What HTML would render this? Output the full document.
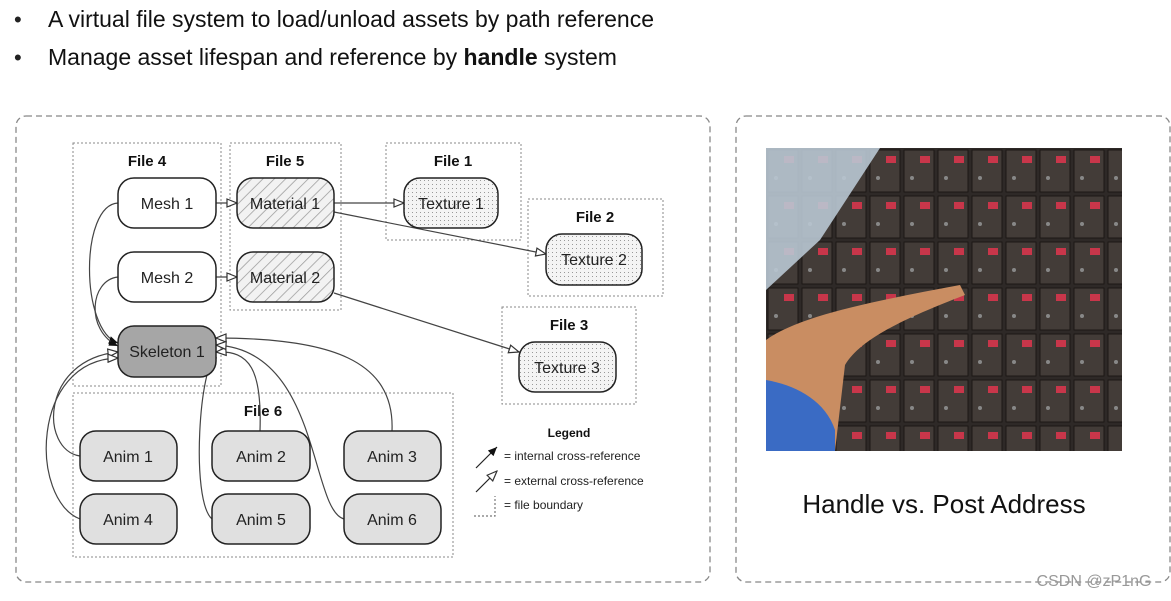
<!DOCTYPE html>
<html><head><meta charset="utf-8"><style>
body{margin:0;width:1171px;height:596px;background:#fff;overflow:hidden;font-family:"Liberation Sans",sans-serif;}
</style></head><body>
<svg width="1171" height="596" xmlns="http://www.w3.org/2000/svg" font-family="Liberation Sans, sans-serif">
<defs>
<pattern id="hatch" width="8" height="8" patternUnits="userSpaceOnUse" patternTransform="rotate(45)">
<rect width="8" height="8" fill="#f2f2f2"/><line x1="0" y1="0" x2="0" y2="8" stroke="#9a9a9a" stroke-width="1.5"/></pattern>
<pattern id="dots" width="4" height="4" patternUnits="userSpaceOnUse"><rect width="4" height="4" fill="#f4f4f4"/><rect width="1" height="1" fill="#999"/></pattern>
<marker id="open" markerWidth="12" markerHeight="10" refX="11" refY="5" orient="auto" markerUnits="userSpaceOnUse"><path d="M1,1 L11,5 L1,9 Z" fill="#fff" stroke="#333" stroke-width="1.2"/></marker>
<marker id="fill" markerWidth="10" markerHeight="8" refX="9" refY="4" orient="auto" markerUnits="userSpaceOnUse"><path d="M0,0 L9,4 L0,8 Z" fill="#111"/></marker>
<pattern id="boxes" width="34" height="46" patternUnits="userSpaceOnUse" x="766" y="148"><rect width="34" height="46" fill="#2e2927"/><rect x="2" y="2" width="30" height="42" fill="#433c38" stroke="#1c1816"/><rect x="18" y="8" width="10" height="7" fill="#c8364a"/><circle cx="10" cy="30" r="2" fill="#888"/></pattern>
</defs>
<text x="14" y="27" font-size="22" fill="#222">•</text>
<text x="48" y="27" font-size="23" fill="#111">A virtual file system to load/unload assets by path reference</text>
<text x="14" y="65" font-size="22" fill="#222">•</text>
<text x="48" y="65" font-size="23" fill="#111">Manage asset lifespan and reference by <tspan font-weight="bold">handle</tspan> system</text>

<rect x="16" y="116" width="694" height="466" rx="10" fill="none" stroke="#888" stroke-width="1.3" stroke-dasharray="6,4"/>
<rect x="736" y="116" width="434" height="466" rx="10" fill="none" stroke="#888" stroke-width="1.3" stroke-dasharray="6,4"/>

<g fill="none" stroke="#888" stroke-width="1" stroke-dasharray="2,2">
<rect x="73" y="143" width="148" height="243"/>
<rect x="230" y="143" width="111" height="167"/>
<rect x="386" y="143" width="135" height="97"/>
<rect x="528" y="199" width="135" height="97"/>
<rect x="502" y="307" width="134" height="97"/>
<rect x="73" y="393" width="380" height="164"/>
</g>
<g font-size="15" font-weight="bold" fill="#111" text-anchor="middle">
<text x="147" y="166">File 4</text><text x="285" y="166">File 5</text><text x="453" y="166">File 1</text>
<text x="595" y="222">File 2</text><text x="569" y="330">File 3</text><text x="263" y="416">File 6</text>
</g>

<g fill="none" stroke="#444" stroke-width="1.2">
<path d="M216,203 L237,203" marker-end="url(#open)"/>
<path d="M216,277 L237,277" marker-end="url(#open)"/>
<path d="M334,203 L404,203" marker-end="url(#open)"/>
<path d="M334,212 L546,254" marker-end="url(#open)"/>
<path d="M334,293 L519,352" marker-end="url(#open)"/>
<path d="M118,203 C80,205 80,330 118,343" marker-end="url(#fill)"/>
<path d="M118,277 C90,280 85,330 118,346" marker-end="url(#fill)"/>
<path d="M80,456 C40,450 40,360 118,352" marker-end="url(#open)"/>
<path d="M80,519 C30,500 30,360 118,358" marker-end="url(#open)"/>
<path d="M260,431 C262,370 250,350 216,352" marker-end="url(#open)"/>
<path d="M212,519 C190,500 200,360 216,358" marker-end="url(#open)"/>
<path d="M392,431 C395,360 330,338 216,338" marker-end="url(#open)"/>
<path d="M344,519 C310,510 320,350 216,345" marker-end="url(#open)"/>
</g>

<g stroke="#222" stroke-width="1.5">
<rect x="118" y="178" width="98" height="50" rx="16" fill="#fff"/>
<rect x="118" y="252" width="98" height="50" rx="16" fill="#fff"/>
<rect x="118" y="326" width="98" height="51" rx="16" fill="#a6a6a6"/>
<rect x="237" y="178" width="97" height="50" rx="16" fill="url(#hatch)"/>
<rect x="237" y="252" width="97" height="50" rx="16" fill="url(#hatch)"/>
<rect x="404" y="178" width="94" height="50" rx="16" fill="url(#dots)"/>
<rect x="546" y="234" width="96" height="51" rx="16" fill="url(#dots)"/>
<rect x="519" y="342" width="97" height="50" rx="16" fill="url(#dots)"/>
<rect x="80" y="431" width="97" height="50" rx="16" fill="#e0e0e0"/>
<rect x="212" y="431" width="98" height="50" rx="16" fill="#e0e0e0"/>
<rect x="344" y="431" width="97" height="50" rx="16" fill="#e0e0e0"/>
<rect x="80" y="494" width="97" height="50" rx="16" fill="#e0e0e0"/>
<rect x="212" y="494" width="98" height="50" rx="16" fill="#e0e0e0"/>
<rect x="344" y="494" width="97" height="50" rx="16" fill="#e0e0e0"/>
</g>
<g font-size="16" fill="#222" text-anchor="middle">
<text x="167" y="209">Mesh 1</text><text x="167" y="283">Mesh 2</text><text x="167" y="357">Skeleton 1</text>
<text x="285" y="209">Material 1</text><text x="285" y="283">Material 2</text>
<text x="451" y="209">Texture 1</text><text x="594" y="265">Texture 2</text><text x="567" y="373">Texture 3</text>
<text x="128" y="462">Anim 1</text><text x="261" y="462">Anim 2</text><text x="392" y="462">Anim 3</text>
<text x="128" y="525">Anim 4</text><text x="261" y="525">Anim 5</text><text x="392" y="525">Anim 6</text>
</g>

<text x="569" y="437" font-size="12" font-weight="bold" text-anchor="middle" fill="#111">Legend</text>
<g stroke="#222" stroke-width="1.2" fill="none">
<path d="M476,468 L497,447" marker-end="url(#fill)"/>
<path d="M476,492 L497,471" marker-end="url(#open)"/>
<path d="M474,516 L495,516 L495,496" stroke-dasharray="2,2" stroke="#777"/>
</g>
<g font-size="12" fill="#222">
<text x="504" y="460">= internal cross-reference</text>
<text x="504" y="485">= external cross-reference</text>
<text x="504" y="509">= file boundary</text>
</g>

<rect x="766" y="148" width="356" height="303" fill="url(#boxes)"/>
<path d="M766,148 L880,148 L820,240 L766,290 Z" fill="#b9c7d3" opacity="0.9"/>
<path d="M766,340 C800,315 880,300 960,285 L965,295 C900,320 860,340 845,365 L835,451 L766,451 Z" fill="#c98d62"/>
<path d="M766,380 C795,385 825,400 835,430 L835,451 L766,451 Z" fill="#3a6bc4"/>
<text x="944" y="513" font-size="26" fill="#111" text-anchor="middle">Handle vs. Post Address</text>
<text x="1094" y="586" font-size="16" fill="#999" text-anchor="middle">CSDN @zP1nG</text>
</svg>
</body></html>
